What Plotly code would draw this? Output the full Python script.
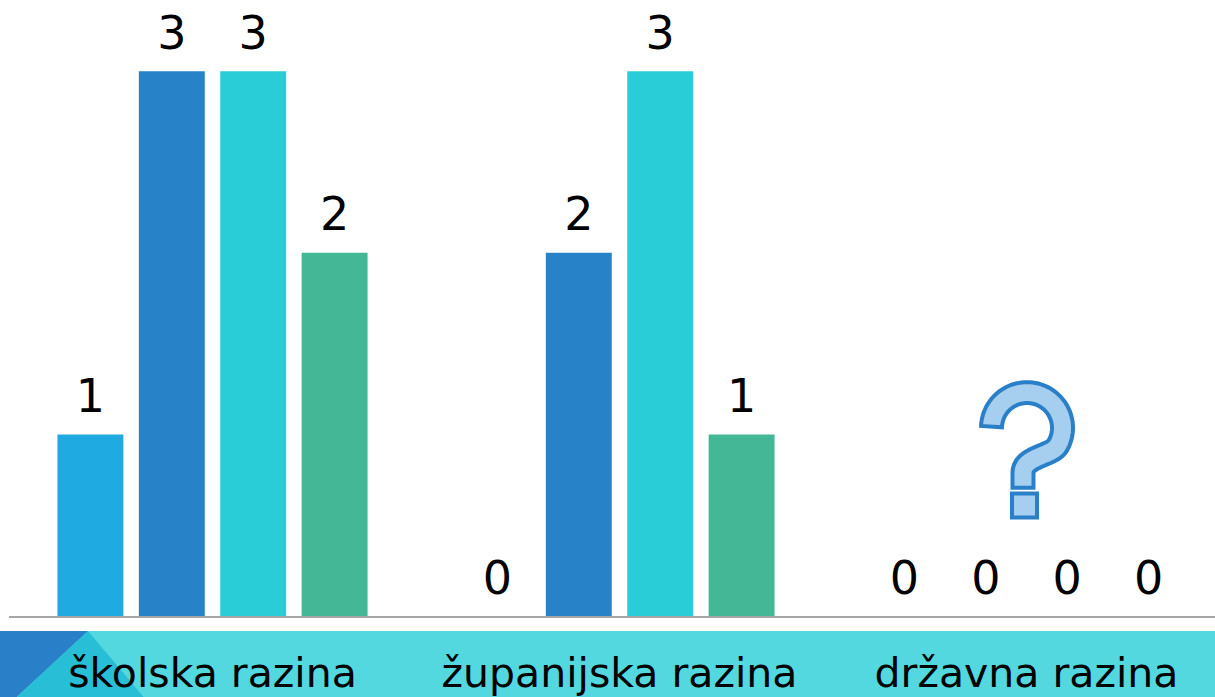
import numpy as np
import plotly.graph_objects as go

categories = ["školska razina", "županijska razina", "državna razina"]
series_names = ["A", "B", "C", "D"]
series_values = [
    [1, 0, 0],
    [3, 2, 0],
    [3, 3, 0],
    [2, 1, 0],
]
series_colors = ["#1FAAE1", "#2882C8", "#29CDD8", "#44B896"]

W, H = 1215, 697
L, B = 9, 78
PW, PH = W - L, H - B
CAT_PX = 407
UNIT_PX = 182.5
DY = 3

fig = go.Figure()
for name, vals, col in zip(series_names, series_values, series_colors):
    fig.add_trace(go.Bar(x=categories, y=vals, name=name, marker_color=col,
                         marker_line_width=0, offsetgroup=name, hoverinfo="skip"))
for name, vals in zip(series_names, series_values):
    fig.add_trace(go.Scatter(x=categories, y=vals, mode="markers+text", text=[str(v) for v in vals],
                             textposition="top center", offsetgroup=name,
                             marker=dict(size=16, opacity=0),
                             textfont=dict(family="DejaVu Sans", size=46, color="#000000"),
                             cliponaxis=False, hoverinfo="skip", showlegend=False))

def px(x):
    return (x - L) / PW

def py(y):
    return (PH - (y + DY)) / PH

shapes = []
# bottom band
shapes.append(dict(type="rect", xref="paper", yref="paper", x0=px(0), x1=px(W), y0=py(631), y1=py(H + 2),
                   fillcolor="#52D8DE", line_width=0, layer="below"))
shapes.append(dict(type="path", xref="paper", yref="paper",
                   path=f"M {px(0)} {py(631)} L {px(88)} {py(631)} L {px(15)} {py(H+2)} L {px(0)} {py(H+2)} Z",
                   fillcolor="#2A80C8", line_width=0, layer="below"))
shapes.append(dict(type="path", xref="paper", yref="paper",
                   path=f"M {px(88)} {py(631)} L {px(145)} {py(H+2)} L {px(15)} {py(H+2)} Z",
                   fillcolor="#28BFD6", line_width=0, layer="below"))

# question mark decoration
cx, cy, r, hw = 1027, 427, 35.5, 10.5
t = np.radians(np.linspace(178, -30, 60))
arc = np.stack([cx + r * np.cos(t), cy - r * np.sin(t)], axis=1)
p0 = arc[-1]
tang = np.array([np.sin(t[-1]), np.cos(t[-1])])
p1 = p0 + 12 * tang
p2 = np.array([1023.0, 456.0])
p3 = np.array([1023.0, 472.0])
s = np.linspace(0, 1, 30)[1:, None]
bez = (1 - s) ** 3 * p0 + 3 * (1 - s) ** 2 * s * p1 + 3 * (1 - s) * s ** 2 * p2 + s ** 3 * p3
stem = np.array([[1023.0, 480.0], [1023.0, 487.0]])
cl = np.vstack([arc, bez, stem])
d = np.gradient(cl, axis=0)
d /= np.linalg.norm(d, axis=1, keepdims=True)
n = np.stack([-d[:, 1], d[:, 0]], axis=1)
left = cl + hw * n
right = cl - hw * n
poly = np.vstack([left, right[::-1]])
path = "M " + " L ".join(f"{px(a):.5f} {py(b):.5f}" for a, b in poly) + " Z"
shapes.append(dict(type="path", xref="paper", yref="paper", path=path,
                   fillcolor="#A6CEEE", line=dict(color="#2A80C8", width=4)))
shapes.append(dict(type="rect", xref="paper", yref="paper", x0=px(1012), x1=px(1037), y0=py(517), y1=py(493),
                   fillcolor="#A6CEEE", line=dict(color="#2A80C8", width=4)))

fig.update_layout(
    width=W, height=H,
    margin=dict(l=L, r=0, t=0, b=B),
    paper_bgcolor="white", plot_bgcolor="white",
    barmode="group", bargap=0.2, bargroupgap=0.19,
    scattermode="group", scattergap=0.2,
    showlegend=False,
    shapes=shapes,
    xaxis=dict(range=[-0.5, -0.5 + PW / CAT_PX], showline=True, linecolor="#A6A6A6", linewidth=2,
               showgrid=False, zeroline=False, ticks="", ticklabelstandoff=20,
               tickfont=dict(family="DejaVu Sans", size=41, color="#000000")),
    yaxis=dict(range=[0, PH / UNIT_PX], visible=False, showgrid=False, zeroline=False),
)

fig.write_html("out.html", config={"displayModeBar": False},
               post_script="document.body.style.margin='0';document.body.style.overflow='hidden';")
